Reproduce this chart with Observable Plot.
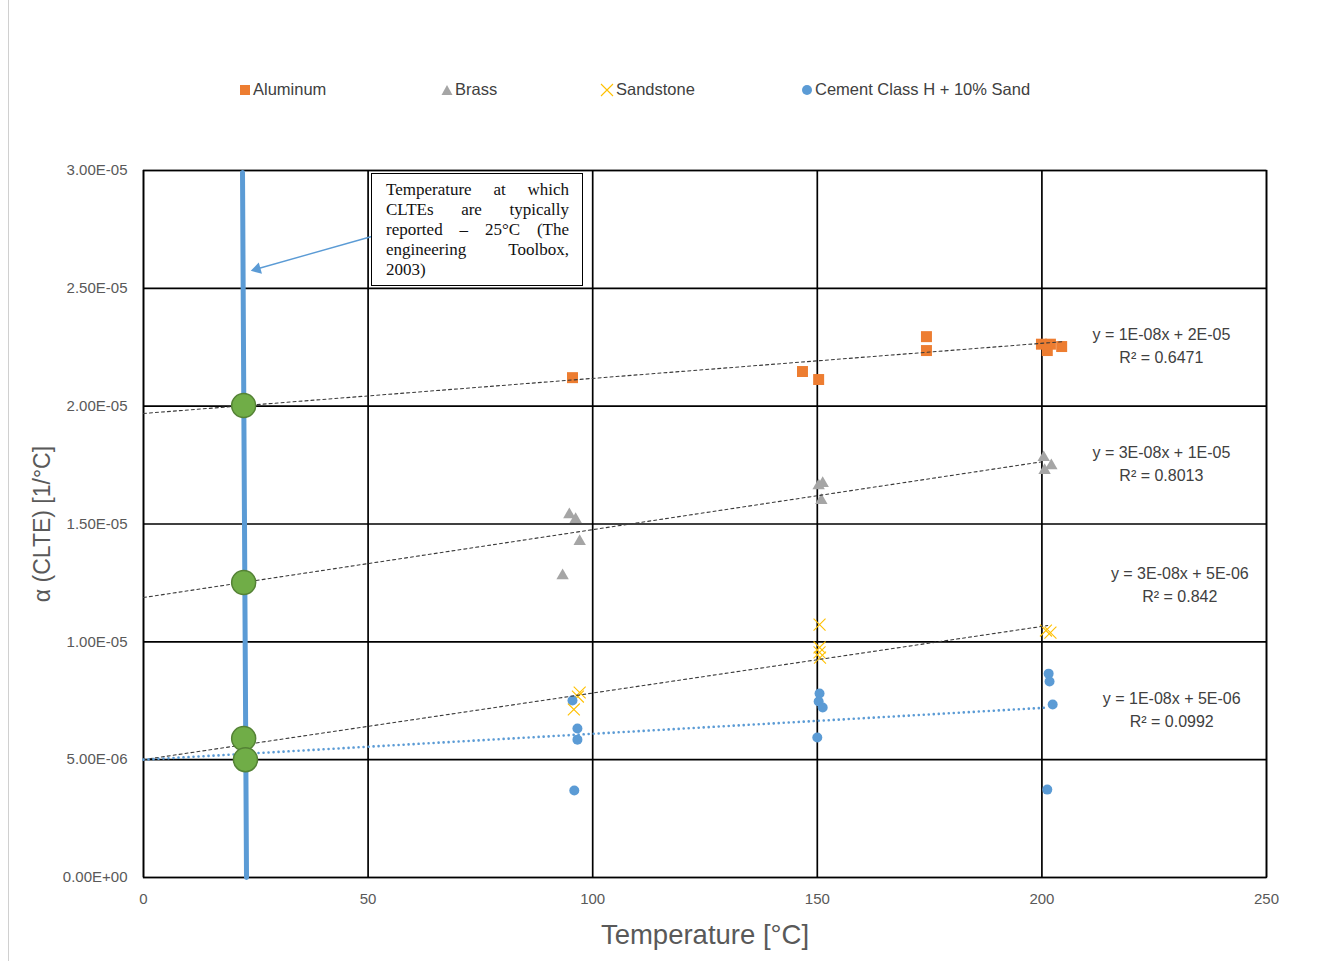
<!DOCTYPE html>
<html><head><meta charset="utf-8">
<script src="https://cdn.jsdelivr.net/npm/d3@7"></script>
<script src="https://cdn.jsdelivr.net/npm/@observablehq/plot@0.6"></script>
<style>
body{margin:0;background:#fff;}
#wrap{position:relative;width:1328px;height:961px;overflow:hidden;font-family:"Liberation Sans",Arial,sans-serif;}
#edge{position:absolute;left:8px;top:0;width:1px;height:961px;background:#d0d0d0;}
#legend{position:absolute;top:80px;left:0;width:1328px;height:22px;font-size:16.5px;color:#404040;}
.li{position:absolute;top:0;display:flex;align-items:center;white-space:nowrap;}
.li svg{margin-right:2px;}
#note{position:absolute;left:371px;top:173px;width:183px;height:99px;border:1px solid #000;background:#fff;
 padding:6px 13px 6px 14px;font-family:"Liberation Serif","Times New Roman",serif;font-size:17px;line-height:20px;color:#111;}
#note div{text-align:justify;text-align-last:justify;white-space:nowrap;}
#note div.last{text-align-last:left;}
</style></head><body>
<div id="wrap">
<div id="edge"></div>
<div id="legend"></div>
<div id="note"></div>
</div>
<script>
// ---- data ----
const seriesNames = ["Aluminum", "Brass", "Sandstone", "Cement Class H + 10% Sand"];
const seriesColors = ["#ed7d31", "#a5a5a5", "#ffc000", "#5b9bd5"];

const aluminumT = [95.5, 146.7, 150.3, 174.3, 174.3, 199.9, 201.9, 201.2, 204.4];
const aluminumA = [21.21e-6, 21.47e-6, 21.13e-6, 22.95e-6, 22.36e-6, 22.63e-6, 22.63e-6, 22.36e-6, 22.53e-6];

const brassT = [94.8, 96.2, 97.1, 93.3, 150.3, 151.2, 150.9, 200.4, 202.1, 200.6];
const brassA = [15.40e-6, 15.19e-6, 14.26e-6, 12.81e-6, 16.63e-6, 16.72e-6, 16.00e-6, 17.82e-6, 17.48e-6, 17.27e-6];

const sandstoneT = [96.7, 97.1, 95.8, 150.5, 150.5, 150.5, 150.6, 201.9, 200.9];
const sandstoneA = [7.68e-6, 7.85e-6, 7.13e-6, 10.73e-6, 9.76e-6, 9.55e-6, 9.33e-6, 10.39e-6, 10.48e-6];

const cementT = [95.5, 96.6, 96.6, 95.9, 150.5, 150.3, 151.2, 150.0, 201.5, 201.7, 202.4, 201.2];
const cementA = [7.51e-6, 6.32e-6, 5.85e-6, 3.69e-6, 7.81e-6, 7.47e-6, 7.21e-6, 5.94e-6, 8.65e-6, 8.32e-6, 7.34e-6, 3.73e-6];

// trend lines (as drawn in the reference, from T = 0 to the last point)
const trendIntercept = [19.69e-6, 11.88e-6, 5.0e-6, 5.0e-6];
const trendSlope = [0.01489e-6, 0.0288e-6, 0.02827e-6, 0.01098e-6];
const trendEnd = [204.8, 200.4, 201.3, 201.2];
const trendEquation = ["y = 1E-08x + 2E-05", "y = 3E-08x + 1E-05", "y = 3E-08x + 5E-06", "y = 1E-08x + 5E-06"];
const trendR2 = ["R² = 0.6471", "R² = 0.8013", "R² = 0.842", "R² = 0.0992"];
const labelT = [226.6, 226.6, 230.7, 228.9];
const labelA = [22.63e-6, 17.62e-6, 12.49e-6, 7.19e-6];

// reference temperature line and intersection markers
const refLineT = [22.04, 22.93];
const refLineA = [29.91e-6, 0];
const markT = [22.3, 22.3, 22.3, 22.7];
const markA = [20.03e-6, 12.52e-6, 5.9e-6, 5.0e-6];

// annotation arrow (tail at the note box, head near the reference line)
const arrowFrom = [50.8, 27.2e-6];
const arrowTo = [25.2, 25.82e-6];
const arrowHead = [25.3, 25.82e-6];
const noteLines = ["Temperature at which", "CLTEs are typically", "reported – 25°C (The", "engineering Toolbox,", "2003)"];

const xTicks = [0, 50, 100, 150, 200, 250];
const yTicks = [0, 5e-6, 1e-5, 1.5e-5, 2e-5, 2.5e-5, 3e-5];
const xTitle = "Temperature [°C]";
const yTitle = "α (CLTE) [1/°C]";

// ---- build tables ----
const zip = (T, A, s) => T.map((t, i) => ({t, a: A[i], s}));
const alData = zip(aluminumT, aluminumA, 0);
const brData = zip(brassT, brassA, 1);
const ssData = zip(sandstoneT, sandstoneA, 2);
const ceData = zip(cementT, cementA, 3);

const trend = seriesNames.flatMap((n, i) => [
  {s: i, t: 0, a: trendIntercept[i]},
  {s: i, t: trendEnd[i], a: trendIntercept[i] + trendSlope[i] * trendEnd[i]}
]);
const trendBlack = trend.filter(d => d.s < 3);
const trendBlue = trend.filter(d => d.s === 3);
const labels = seriesNames.map((n, i) => ({t: labelT[i], a: labelA[i], text: trendEquation[i] + "\n" + trendR2[i]}));
const refLine = refLineT.map((t, i) => ({t, a: refLineA[i]}));
const marks = markT.map((t, i) => ({t, a: markA[i]}));

const fmt = v => {
  if (v === 0) return "0.00E+00";
  const [m, e] = v.toExponential(2).split("e");
  const n = +e;
  return m + "E" + (n < 0 ? "-" : "+") + String(Math.abs(n)).padStart(2, "0");
};

const font = "Liberation Sans, Arial, sans-serif";
const chart = Plot.plot({
  width: 1328, height: 961,
  marginTop: 170, marginBottom: 84, marginLeft: 143, marginRight: 62,
  x: {domain: [0, 250]},
  y: {domain: [0, 3e-5]},
  style: {fontFamily: font, fontSize: "15px", color: "#595959", background: "transparent", overflow: "visible"},
  marks: [
    Plot.gridY(yTicks, {stroke: "#000", strokeOpacity: 1, strokeWidth: 1.7}),
    Plot.gridX(xTicks, {stroke: "#000", strokeOpacity: 1, strokeWidth: 1.7}),
    Plot.frame({stroke: "#000", strokeWidth: 1.4}),
    Plot.axisY(yTicks, {tickSize: 0, tickPadding: 16, tickFormat: fmt, label: null, fill: "#595959"}),
    Plot.axisX(xTicks, {tickSize: 0, tickPadding: 16, label: null, fill: "#595959"}),
    Plot.text([xTitle], {frameAnchor: "bottom", dy: 66, text: d => d, fontSize: 27.5, fill: "#595959"}),
    Plot.text([yTitle], {frameAnchor: "left", dx: -101, rotate: -90, textAnchor: "middle", text: d => d, fontSize: 23, fill: "#595959"}),
    Plot.dot(alData, {x: "t", y: "a", symbol: "square", r: 6.2, fill: seriesColors[0]}),
    Plot.dot(brData, {x: "t", y: "a", symbol: "triangle", r: 4.6, fill: seriesColors[1]}),
    Plot.dot(ssData, {x: "t", y: "a", symbol: "times", r: 5.5, stroke: seriesColors[2], strokeWidth: 1.1}),
    Plot.dot(ceData, {x: "t", y: "a", symbol: "circle", r: 5, fill: seriesColors[3]}),
    Plot.line(trendBlack, {x: "t", y: "a", z: "s", stroke: "#3a3a3a", strokeWidth: 1.1, strokeDasharray: "3,3"}),
    Plot.line(trendBlue, {x: "t", y: "a", stroke: "#5b9bd5", strokeWidth: 2.6, strokeDasharray: "0.01,5", strokeLinecap: "round"}),
    Plot.line(refLine, {x: "t", y: "a", stroke: "#5b9bd5", strokeWidth: 5}),
    Plot.dot(marks, {x: "t", y: "a", r: 12, fill: "#70ad47", stroke: "#548235", strokeWidth: 1.5}),
    Plot.link([{x1: arrowFrom[0], y1: arrowFrom[1], x2: arrowTo[0], y2: arrowTo[1]}],
      {x1: "x1", y1: "y1", x2: "x2", y2: "y2", stroke: "#5b9bd5", strokeWidth: 1.4}),
    Plot.dot([{t: arrowHead[0], a: arrowHead[1]}], {x: "t", y: "a", symbol: "triangle", r: 4.3, rotate: -106, fill: "#5b9bd5"}),
    Plot.text(labels, {x: "t", y: "a", text: "text", fontSize: 16, lineHeight: 1.45, fill: "#404040", textAnchor: "middle"})
  ]
});
chart.style.position = "absolute";
chart.style.left = "0px";
chart.style.top = "0px";
const wrap = document.getElementById("wrap");
wrap.insertBefore(chart, document.getElementById("legend"));

// legend
const legendX = [239, 441, 600, 801];
const icon = i => {
  const c = seriesColors[i];
  if (i === 0) return `<svg width="12" height="12"><rect x="1" y="1" width="10" height="10" fill="${c}"/></svg>`;
  if (i === 1) return `<svg width="12" height="12"><path d="M6 1 L11.5 11 L0.5 11 Z" fill="${c}"/></svg>`;
  if (i === 2) return `<svg width="14" height="14"><path d="M1 1 L13 13 M13 1 L1 13" stroke="${c}" stroke-width="1.1"/></svg>`;
  return `<svg width="12" height="12"><circle cx="6" cy="6" r="5" fill="${c}"/></svg>`;
};
const legend = document.getElementById("legend");
seriesNames.forEach((n, i) => {
  const el = document.createElement("div");
  el.className = "li";
  el.style.left = legendX[i] + "px";
  el.innerHTML = icon(i) + `<span>${n}</span>`;
  legend.appendChild(el);
});

// annotation note
const note = document.getElementById("note");
noteLines.forEach((l, i) => {
  const d = document.createElement("div");
  d.textContent = l;
  if (i === noteLines.length - 1) d.className = "last";
  note.appendChild(d);
});
</script>
</body></html>
